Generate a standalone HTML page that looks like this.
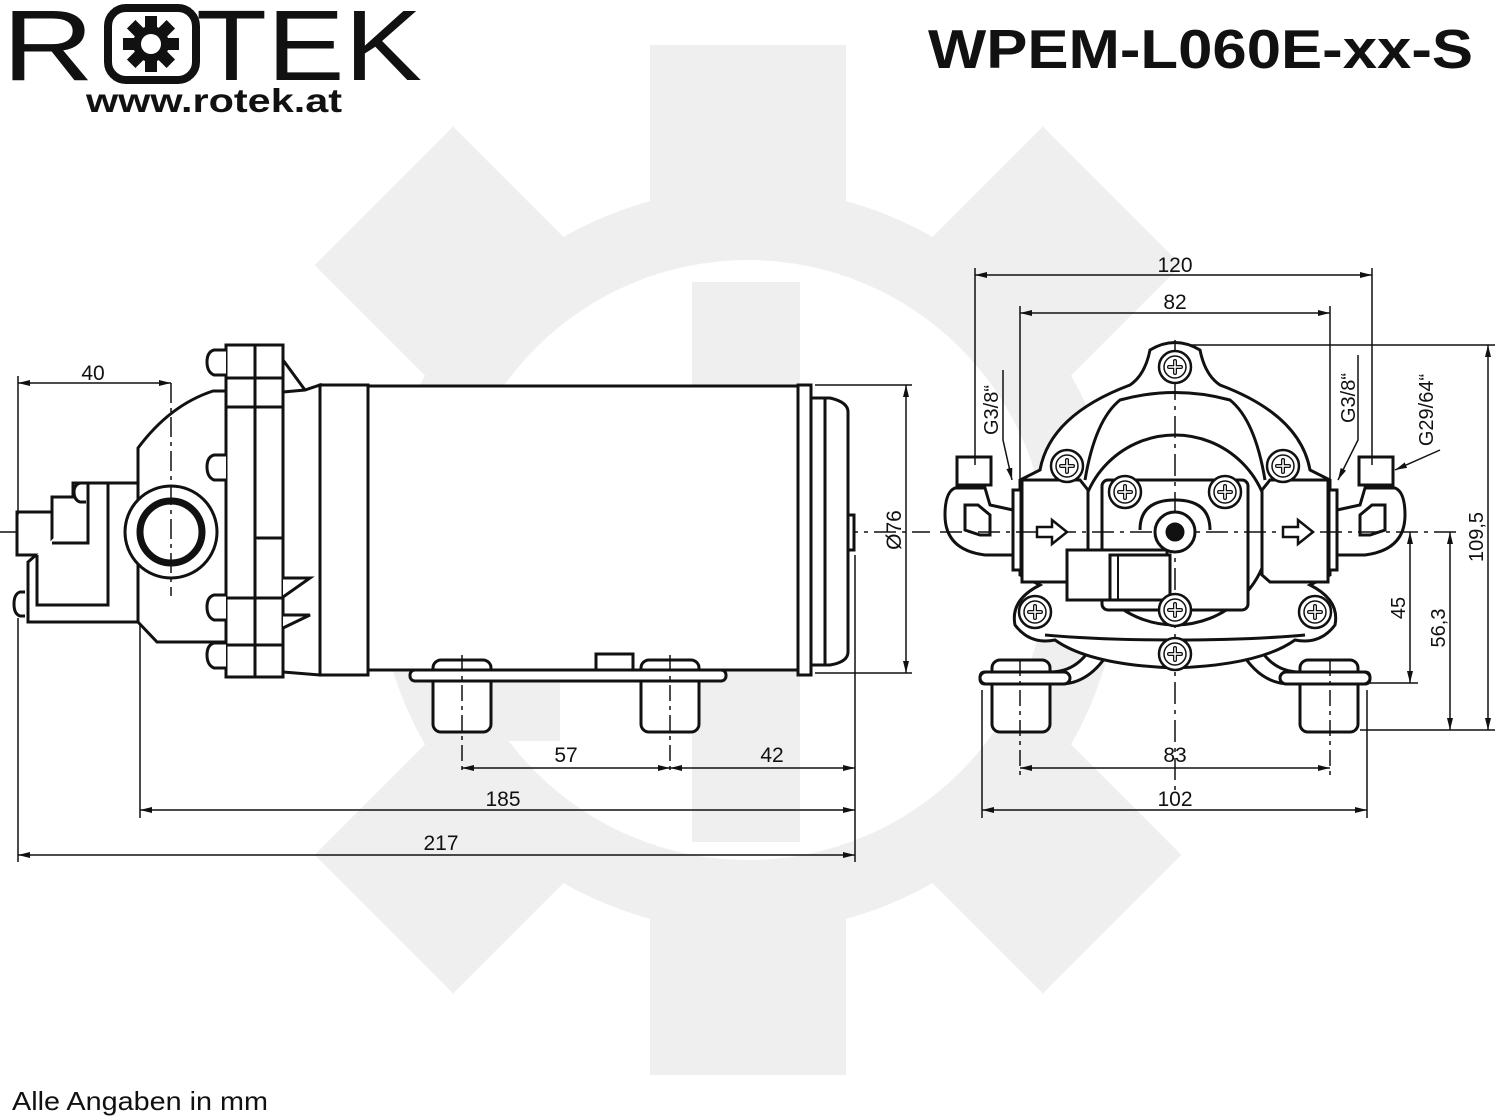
<!DOCTYPE html>
<html><head><meta charset="utf-8"><style>
html,body{margin:0;padding:0;background:#fff;}
svg{display:block;}
text{font-family:"Liberation Sans",sans-serif;fill:#111;}
</style></head><body>
<svg width="1500" height="1119" viewBox="0 0 1500 1119" xmlns="http://www.w3.org/2000/svg">
<defs>
<marker id="a" viewBox="0 0 12 6" refX="12" refY="3" markerWidth="12" markerHeight="6" orient="auto-start-reverse" markerUnits="userSpaceOnUse"><path d="M0,0 L12,3 L0,6 z" fill="#111"/></marker>
<g id="sc"><circle r="16" fill="#fff" stroke="#111" stroke-width="2.5"/><circle r="11" fill="#fff" stroke="#111" stroke-width="1.5"/><path d="M-6,0 H6 M0,-6 V6" stroke="#111" stroke-width="4" stroke-linecap="round"/><path d="M-6,0 H6 M0,-6 V6" stroke="#fff" stroke-width="1.5" stroke-linecap="round"/></g>
</defs>
<g fill="#efefef">
<circle cx="748" cy="560" r="372"/>
<rect x="650" y="45" width="196" height="1030"/>
<rect x="235" y="462" width="1030" height="196"/>
<rect x="650" y="45" width="196" height="1030" transform="rotate(45 748 560)"/>
<rect x="650" y="45" width="196" height="1030" transform="rotate(-45 748 560)"/>
</g>
<circle cx="748" cy="560" r="300" fill="#fff"/>
<g fill="#efefef">
<rect x="692" y="282" width="108" height="560"/>
<rect x="460" y="511" width="100" height="230"/>
</g>

<text x="2" y="80" font-size="100" textLength="92" lengthAdjust="spacingAndGlyphs">R</text>
<rect x="108" y="8" width="88" height="72" rx="18" fill="none" stroke="#111" stroke-width="8"/>
<g transform="translate(151,44)" fill="#111">
<circle r="18"/>
<rect x="-6" y="-28" width="12" height="56"/>
<rect x="-28" y="-6" width="56" height="12"/>
<rect x="-6" y="-28" width="12" height="56" transform="rotate(45)"/>
<rect x="-6" y="-28" width="12" height="56" transform="rotate(-45)"/>
<circle r="10" fill="#fff"/>
</g>
<text x="196" y="80" font-size="100" textLength="226" lengthAdjust="spacingAndGlyphs">TEK</text>
<text x="86" y="112" font-size="33" font-weight="700" textLength="256" lengthAdjust="spacingAndGlyphs">www.rotek.at</text>
<text x="928" y="68" font-size="55" font-weight="700" textLength="545" lengthAdjust="spacingAndGlyphs">WPEM-L060E-xx-S</text>
<text x="12" y="1110" font-size="26" textLength="256" lengthAdjust="spacingAndGlyphs">Alle Angaben in mm</text>

<g stroke="#111" fill="none">
<line x1="0" y1="532" x2="930" y2="532" stroke-width="1.5" stroke-dasharray="22,6,4,6"/>
<g stroke-width="3" fill="#fff">
<path d="M368,386 H798 V670 H368 Z"/>
<rect x="798" y="385" width="13" height="290"/>
<path d="M811,398 H830 Q848,402 848,412 V652 Q848,662 830,665 H811 Z"/>
<line x1="825" y1="398" x2="825" y2="665"/>
<rect x="848" y="515" width="6" height="35"/>
<rect x="320" y="385" width="48" height="290"/>
<path d="M283,392 L305,390 L320,385 V675 L283,672 Z"/>
<rect x="226" y="345" width="57" height="332"/>
<line x1="255" y1="345" x2="255" y2="677"/>
<line x1="226" y1="378" x2="283" y2="378"/>
<line x1="226" y1="407" x2="283" y2="407"/>
<line x1="226" y1="598" x2="283" y2="598"/>
<line x1="226" y1="645" x2="283" y2="645"/>
<path d="M283,360 L305,390 M283,407 V423"/>
<path d="M255,538 H283 V578 M283,578 L310,578 L283,597 M283,615 L310,615 L283,628"/>
<path d="M226,391 L213,391 Q170,405 138,448 V622 L157,642 H226 Z"/>
<path d="M138,483 H73 V497 H52 V555 H36 L28,562 V622 H138 Z"/>
<rect x="17" y="512" width="35" height="43"/>
<path d="M88,483 V543 H52 M108,483 V605 H37 V555"/>
<path d="M226,350 H214 Q207,352 207,362 Q207,372 214,375 H226"/>
<path d="M226,455 H214 Q207,457 207,467 Q207,477 214,480 H226"/>
<path d="M226,595 H214 Q207,597 207,607 Q207,617 214,620 H226"/>
<path d="M226,643 H214 Q207,645 207,655 Q207,665 214,668 H226"/>
<path d="M86,483 H80 Q74,485 74,492 Q74,500 80,502 H86"/>
<path d="M25,592 H20 Q14,594 14,604 Q14,614 20,616 H25"/>
<circle cx="171" cy="532" r="46"/>
</g>
<circle cx="171" cy="532" r="31" stroke-width="7"/>
<line x1="171" y1="383" x2="171" y2="596" stroke-width="1.5" stroke-dasharray="20,5,4,5"/>
<g stroke-width="3" fill="#fff">
<rect x="596" y="654" width="37" height="16"/>
<rect x="433" y="660" width="58" height="72" rx="8"/>
<rect x="641" y="660" width="58" height="72" rx="8"/>
<rect x="410" y="670" width="316" height="11" rx="5"/>
</g>
<line x1="462" y1="655" x2="462" y2="775" stroke-width="1.5" stroke-dasharray="16,5,4,5"/>
<line x1="670" y1="655" x2="670" y2="775" stroke-width="1.5" stroke-dasharray="16,5,4,5"/>

<g stroke-width="1.5">
<line x1="18" y1="376" x2="18" y2="515"/>
<line x1="18" y1="383" x2="171" y2="383" marker-start="url(#a)" marker-end="url(#a)"/>
<line x1="18" y1="618" x2="18" y2="862"/>
<line x1="140" y1="625" x2="140" y2="818"/>
<line x1="855" y1="555" x2="855" y2="862"/>
<line x1="18" y1="855" x2="855" y2="855" marker-start="url(#a)" marker-end="url(#a)"/>
<line x1="140" y1="810" x2="855" y2="810" marker-start="url(#a)" marker-end="url(#a)"/>
<line x1="462" y1="768" x2="670" y2="768" marker-start="url(#a)" marker-end="url(#a)"/>
<line x1="670" y1="768" x2="855" y2="768" marker-start="url(#a)" marker-end="url(#a)"/>
<line x1="815" y1="385" x2="912" y2="385"/>
<line x1="815" y1="673" x2="912" y2="673"/>
<line x1="906" y1="385" x2="906" y2="673" marker-start="url(#a)" marker-end="url(#a)"/>
</g>
</g>
<text x="93" y="380" font-size="21" text-anchor="middle">40</text>
<text x="441" y="850" font-size="21" text-anchor="middle">217</text>
<text x="503" y="806" font-size="21" text-anchor="middle">185</text>
<text x="566" y="762" font-size="21" text-anchor="middle">57</text>
<text x="772" y="762" font-size="21" text-anchor="middle">42</text>
<text transform="translate(901,530) rotate(-90)" font-size="21" text-anchor="middle">Ø76</text>

<g stroke="#111" fill="none">
<g stroke-width="3" fill="#fff">
<path d="M1095,640 Q1080,672 1050,672 H985 Q980,672 980,678 Q980,684 985,684 H1060 Q1090,684 1110,650 Z"/>
<path d="M1255,640 Q1270,672 1300,672 H1365 Q1370,672 1370,678 Q1370,684 1365,684 H1290 Q1260,684 1240,650 Z"/>
<rect x="992" y="660" width="58" height="72" rx="8"/>
<rect x="1300" y="660" width="58" height="72" rx="8"/>
<rect x="980" y="672" width="90" height="12" rx="6"/>
<rect x="1280" y="672" width="90" height="12" rx="6"/>
<path d="M1150,350 Q1175,335 1200,350 Q1205,375 1220,385 Q1300,415 1310,470 L1330,480 V575 L1310,585 Q1340,600 1335,625 Q1320,645 1295,640 Q1260,665 1175,668 Q1090,665 1055,640 Q1030,645 1015,625 Q1010,600 1040,585 L1020,575 V480 L1040,470 Q1050,415 1130,385 Q1145,375 1150,350 Z"/>
<path d="M1085,480 Q1095,420 1120,400 Q1175,385 1230,400 Q1255,420 1265,480"/>
<path d="M1045,635 Q1100,640 1175,640 Q1250,640 1305,635"/>
<circle cx="1175" cy="530" r="95"/>
<rect x="1102" y="480" width="146" height="130" rx="6"/>
<path d="M1022,480 H1080 L1088,490 V575 L1080,582 H1022 Z"/>
<path d="M1328,480 H1270 L1262,490 V575 L1270,582 H1328 Z"/>
<rect x="1013" y="490" width="8" height="80"/>
<rect x="1329" y="490" width="8" height="80"/>
<rect x="957" y="457" width="34" height="28"/>
<path d="M955,488 H985 L990,505 L1013,510 V555 L985,555 Q945,550 945,515 Q945,492 955,488 Z"/>
<path d="M965,505 V530 L980,535 H990 V515 L978,505 Z"/>
<rect x="1359" y="457" width="34" height="28"/>
<path d="M1395,488 H1365 L1360,505 L1337,510 V555 L1365,555 Q1405,550 1405,515 Q1405,492 1395,488 Z"/>
<path d="M1385,505 V530 L1370,535 H1360 V515 L1372,505 Z"/>
<rect x="1067" y="550" width="100" height="50"/>
<rect x="1110" y="555" width="60" height="45"/>
<line x1="1118" y1="555" x2="1118" y2="600" stroke-width="2"/>
<path d="M1140,530 Q1140,500 1175,500 Q1210,500 1210,530"/>
</g>
<line x1="940" y1="532" x2="1460" y2="532" stroke-width="1.5" stroke-dasharray="22,6,4,6"/>
<line x1="1175" y1="340" x2="1175" y2="790" stroke-width="1.5" stroke-dasharray="22,6,4,6"/>
<circle cx="1175" cy="532" r="20" stroke-width="3" fill="#fff"/>
<circle cx="1175" cy="532" r="9" fill="#111"/>
<g stroke-width="2.5" fill="#fff">
<path d="M1037,527 H1052 V520 L1067,532 L1052,544 V537 H1037 Z"/>
<path d="M1283,527 H1298 V520 L1313,532 L1298,544 V537 H1283 Z"/>
</g>
<use href="#sc" x="1175" y="367"/>
<use href="#sc" x="1067" y="466"/>
<use href="#sc" x="1283" y="466"/>
<use href="#sc" x="1125" y="492"/>
<use href="#sc" x="1225" y="492"/>
<use href="#sc" x="1035" y="612"/>
<use href="#sc" x="1315" y="612"/>
<use href="#sc" x="1175" y="610"/>
<use href="#sc" x="1175" y="654"/>
<g stroke-width="1.5">
<line x1="1020" y1="660" x2="1020" y2="775" stroke-dasharray="16,5,4,5"/>
<line x1="1330" y1="660" x2="1330" y2="775" stroke-dasharray="16,5,4,5"/>
<line x1="975" y1="268" x2="975" y2="465"/>
<line x1="1372" y1="268" x2="1372" y2="465"/>
<line x1="975" y1="275" x2="1372" y2="275" marker-start="url(#a)" marker-end="url(#a)"/>
<line x1="1020" y1="306" x2="1020" y2="480"/>
<line x1="1330" y1="306" x2="1330" y2="480"/>
<line x1="1020" y1="313" x2="1330" y2="313" marker-start="url(#a)" marker-end="url(#a)"/>
<line x1="1020" y1="768" x2="1330" y2="768" marker-start="url(#a)" marker-end="url(#a)"/>
<line x1="982" y1="690" x2="982" y2="818"/>
<line x1="1367" y1="690" x2="1367" y2="818"/>
<line x1="982" y1="810" x2="1367" y2="810" marker-start="url(#a)" marker-end="url(#a)"/>
<line x1="1190" y1="345" x2="1495" y2="345"/>
<line x1="1360" y1="730" x2="1495" y2="730"/>
<line x1="1488" y1="345" x2="1488" y2="730" marker-start="url(#a)" marker-end="url(#a)"/>
<line x1="1370" y1="683" x2="1418" y2="683"/>
<line x1="1410" y1="532" x2="1410" y2="683" marker-start="url(#a)" marker-end="url(#a)"/>
<line x1="1450" y1="532" x2="1450" y2="730" marker-start="url(#a)" marker-end="url(#a)"/>
<path d="M1003,370 V440 L1012,480" marker-end="url(#a)"/>
<path d="M1358,355 V440 L1338,480" marker-end="url(#a)"/>
<path d="M1440,450 L1395,470" marker-end="url(#a)"/>
</g>
</g>
<text x="1175" y="272" font-size="21" text-anchor="middle">120</text>
<text x="1175" y="309" font-size="21" text-anchor="middle">82</text>
<text x="1175" y="762" font-size="21" text-anchor="middle">83</text>
<text x="1175" y="806" font-size="21" text-anchor="middle">102</text>
<text transform="translate(998,410) rotate(-90)" font-size="20" text-anchor="middle">G3/8“</text>
<text transform="translate(1355,398) rotate(-90)" font-size="20" text-anchor="middle">G3/8“</text>
<text transform="translate(1433,410) rotate(-90)" font-size="20" text-anchor="middle">G29/64“</text>
<text transform="translate(1405,608) rotate(-90)" font-size="20" text-anchor="middle">45</text>
<text transform="translate(1445,628) rotate(-90)" font-size="20" text-anchor="middle">56,3</text>
<text transform="translate(1483,537) rotate(-90)" font-size="20" text-anchor="middle">109,5</text>
</svg>
</body></html>
